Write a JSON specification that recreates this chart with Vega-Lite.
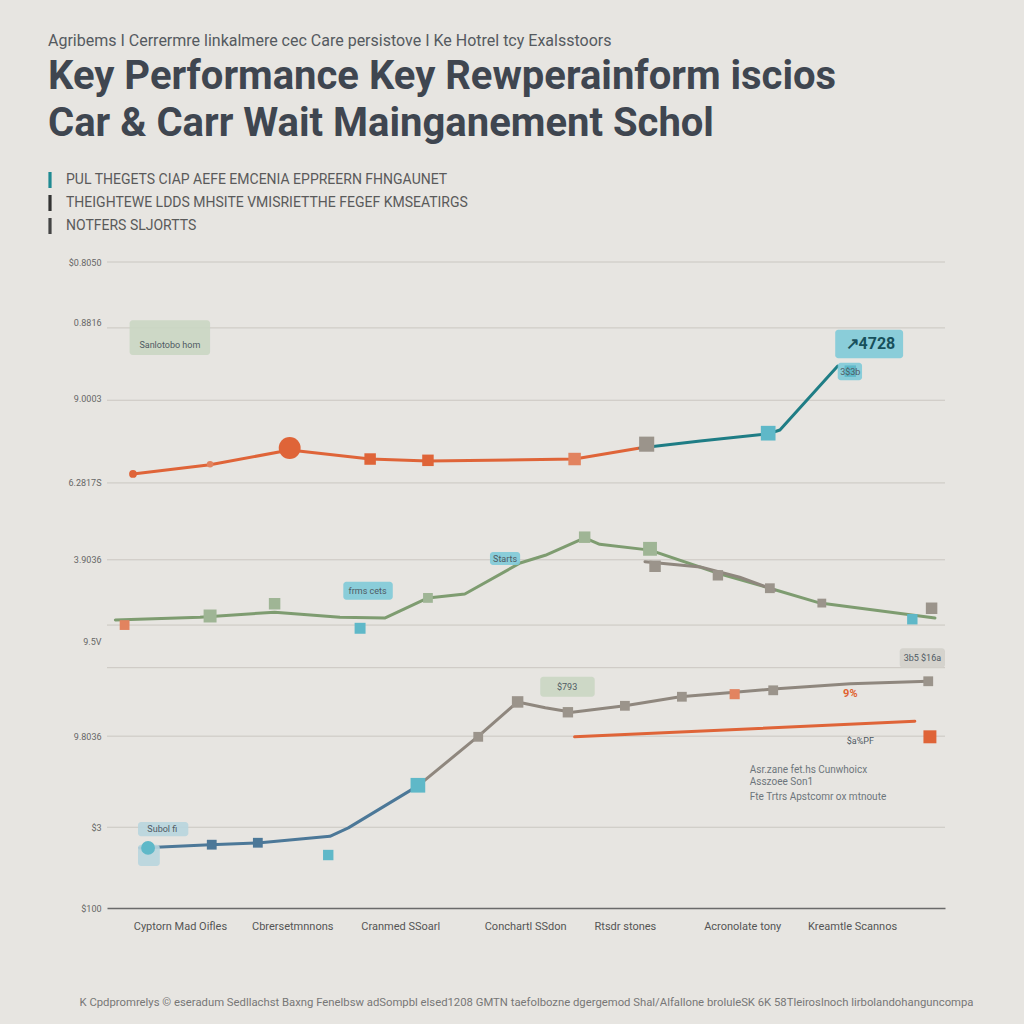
{
  "$schema": "https://vega.github.io/schema/vega-lite/v6.json",
  "width": 838,
  "height": 646,
  "autosize": "none",
  "padding": {"left": 107, "top": 262, "right": 79, "bottom": 116},
  "background": "#e7e5e1",
  "config": {"view": {"stroke": null}, "font": "Roboto"},
  "title": {
    "text": "Agribems I Cerrermre linkalmere cec Care persistove I Ke Hotrel tcy Exalsstoors",
    "subtitle": ["Key Performance Key Rewperainform iscios", "Car & Carr Wait Mainganement Schol"],
    "anchor": "start",
    "frame": "group",
    "dx": -59,
    "offset": 28,
    "fontSize": 16,
    "fontWeight": "normal",
    "color": "#555a60",
    "subtitleFontSize": 40,
    "subtitleFontWeight": "bold",
    "subtitleColor": "#3f4650",
    "subtitleLineHeight": 47,
    "subtitlePadding": 8,
    "font": "Roboto",
    "subtitleFont": "Roboto"
  },
  "datasets": {
    "grid": [{"v": 100}, {"v": 89.8}, {"v": 78.6}, {"v": 65.8}, {"v": 53.9}, {"v": 43.8}, {"v": 37.2}, {"v": 26.6}, {"v": 12.5}],
    "lines": [
      {"s": "A", "c": "orange", "x": 3.1, "y": 67.2}, {"s": "A", "c": "orange", "x": 12.3, "y": 68.6}, {"s": "A", "c": "orange", "x": 21.8, "y": 70.9}, {"s": "A", "c": "orange", "x": 31.4, "y": 69.5}, {"s": "A", "c": "orange", "x": 38.3, "y": 69.2}, {"s": "A", "c": "orange", "x": 55.8, "y": 69.5}, {"s": "A", "c": "orange", "x": 63.6, "y": 71.2},
      {"s": "B", "c": "teal", "x": 63.6, "y": 71.2}, {"s": "B", "c": "teal", "x": 70.8, "y": 72.3}, {"s": "B", "c": "teal", "x": 78.9, "y": 73.4}, {"s": "B", "c": "teal", "x": 80.3, "y": 74.0}, {"s": "B", "c": "teal", "x": 87.2, "y": 83.9},
      {"s": "C", "c": "green", "x": 1.0, "y": 44.6}, {"s": "C", "c": "green", "x": 11.1, "y": 45.0}, {"s": "C", "c": "green", "x": 20.0, "y": 45.8}, {"s": "C", "c": "green", "x": 27.8, "y": 45.0}, {"s": "C", "c": "green", "x": 33.2, "y": 44.9}, {"s": "C", "c": "green", "x": 38.3, "y": 48.0}, {"s": "C", "c": "green", "x": 42.7, "y": 48.6}, {"s": "C", "c": "green", "x": 49.3, "y": 53.4}, {"s": "C", "c": "green", "x": 52.3, "y": 54.6}, {"s": "C", "c": "green", "x": 57.0, "y": 57.3}, {"s": "C", "c": "green", "x": 58.8, "y": 56.3}, {"s": "C", "c": "green", "x": 64.8, "y": 55.4}, {"s": "C", "c": "green", "x": 73.2, "y": 51.7}, {"s": "C", "c": "green", "x": 79.1, "y": 49.5}, {"s": "C", "c": "green", "x": 85.1, "y": 47.2}, {"s": "C", "c": "green", "x": 98.8, "y": 44.9},
      {"s": "D", "c": "gray", "x": 64.2, "y": 53.6}, {"s": "D", "c": "gray", "x": 70.8, "y": 52.8}, {"s": "D", "c": "gray", "x": 75.5, "y": 51.2}, {"s": "D", "c": "gray", "x": 79.7, "y": 49.2},
      {"s": "E", "c": "blue", "x": 3.9, "y": 9.3}, {"s": "E", "c": "blue", "x": 12.3, "y": 9.8}, {"s": "E", "c": "blue", "x": 18.3, "y": 10.1}, {"s": "E", "c": "blue", "x": 26.6, "y": 11.1}, {"s": "E", "c": "blue", "x": 28.8, "y": 12.4}, {"s": "E", "c": "blue", "x": 37.1, "y": 18.9},
      {"s": "F", "c": "gray", "x": 37.1, "y": 18.9}, {"s": "F", "c": "gray", "x": 44.5, "y": 26.8}, {"s": "F", "c": "gray", "x": 49.0, "y": 31.9}, {"s": "F", "c": "gray", "x": 52.3, "y": 31.0}, {"s": "F", "c": "gray", "x": 55.5, "y": 30.3}, {"s": "F", "c": "gray", "x": 61.8, "y": 31.3}, {"s": "F", "c": "gray", "x": 68.4, "y": 32.7}, {"s": "F", "c": "gray", "x": 74.9, "y": 33.4}, {"s": "F", "c": "gray", "x": 79.5, "y": 33.9}, {"s": "F", "c": "gray", "x": 88.7, "y": 34.7}, {"s": "F", "c": "gray", "x": 98.0, "y": 35.1},
      {"s": "G", "c": "orange", "x": 55.8, "y": 26.5}, {"s": "G", "c": "orange", "x": 96.4, "y": 28.9}
    ],
    "boxes": [
      {"c": "boxgreen", "x": 2.7, "x2": 12.3, "y": 91.0, "y2": 85.6},
      {"c": "boxteal", "x": 86.9, "x2": 95.0, "y": 89.5, "y2": 85.1},
      {"c": "boxteal", "x": 87.2, "x2": 90.1, "y": 84.4, "y2": 81.7},
      {"c": "boxteal", "x": 45.7, "x2": 49.3, "y": 55.1, "y2": 53.1},
      {"c": "boxteal", "x": 28.2, "x2": 34.1, "y": 50.5, "y2": 47.7},
      {"c": "boxgreen", "x": 51.7, "x2": 58.2, "y": 35.8, "y2": 32.7},
      {"c": "boxgray", "x": 94.6, "x2": 100, "y": 40.2, "y2": 37.2},
      {"c": "boxblue", "x": 3.7, "x2": 9.7, "y": 13.3, "y2": 11.1},
      {"c": "boxblue", "x": 3.7, "x2": 6.3, "y": 9.8, "y2": 6.5}
    ],
    "markers": [
      {"c": "orange", "m": "dot", "w": 1, "x": 3.1, "y": 67.2},
      {"c": "mkorange", "m": "dot", "w": 0.7, "x": 12.3, "y": 68.7},
      {"c": "orange", "m": "dot", "w": 8, "x": 21.8, "y": 71.2},
      {"c": "orange", "m": "box", "w": 2.2, "x": 31.4, "y": 69.5},
      {"c": "orange", "m": "box", "w": 2.2, "x": 38.3, "y": 69.3},
      {"c": "mkorange", "m": "box", "w": 2.6, "x": 55.8, "y": 69.5},
      {"c": "mkgray", "m": "box", "w": 3.8, "x": 64.4, "y": 71.8},
      {"c": "mkteal", "m": "box", "w": 3.6, "x": 78.9, "y": 73.5},
      {"c": "mkteal", "m": "box", "w": 2.2, "x": 88.7, "y": 83.1},
      {"c": "mkorange", "m": "box", "w": 1.6, "x": 2.1, "y": 43.8},
      {"c": "mkgreen", "m": "box", "w": 2.8, "x": 12.3, "y": 45.2},
      {"c": "mkgreen", "m": "box", "w": 2.2, "x": 20.0, "y": 47.1},
      {"c": "mkteal", "m": "box", "w": 2, "x": 30.2, "y": 43.3},
      {"c": "mkgreen", "m": "box", "w": 1.6, "x": 38.3, "y": 48.0},
      {"c": "mkgreen", "m": "box", "w": 2.2, "x": 57.0, "y": 57.4},
      {"c": "mkgreen", "m": "box", "w": 3.2, "x": 64.8, "y": 55.6},
      {"c": "mkgray", "m": "box", "w": 2.2, "x": 65.4, "y": 52.9},
      {"c": "mkgray", "m": "box", "w": 1.8, "x": 72.9, "y": 51.5},
      {"c": "mkgray", "m": "box", "w": 1.6, "x": 79.1, "y": 49.5},
      {"c": "mkgray", "m": "box", "w": 1.3, "x": 85.3, "y": 47.2},
      {"c": "mkgray", "m": "box", "w": 2.2, "x": 98.4, "y": 46.4},
      {"c": "mkteal", "m": "box", "w": 1.8, "x": 96.1, "y": 44.7},
      {"c": "mkteal", "m": "dot", "w": 3.2, "x": 4.9, "y": 9.3},
      {"c": "blue", "m": "box", "w": 1.6, "x": 12.5, "y": 9.8},
      {"c": "blue", "m": "box", "w": 1.6, "x": 18.0, "y": 10.1},
      {"c": "mkteal", "m": "box", "w": 1.8, "x": 26.4, "y": 8.2},
      {"c": "mkteal", "m": "box", "w": 3.6, "x": 37.1, "y": 19.0},
      {"c": "mkgray", "m": "box", "w": 1.6, "x": 44.3, "y": 26.5},
      {"c": "mkgray", "m": "box", "w": 2.2, "x": 49.0, "y": 31.9},
      {"c": "mkgray", "m": "box", "w": 1.8, "x": 55.0, "y": 30.3},
      {"c": "mkgray", "m": "box", "w": 1.6, "x": 61.8, "y": 31.3},
      {"c": "mkgray", "m": "box", "w": 1.6, "x": 68.6, "y": 32.7},
      {"c": "mkorange", "m": "box", "w": 1.7, "x": 74.9, "y": 33.1},
      {"c": "mkgray", "m": "box", "w": 1.6, "x": 79.5, "y": 33.7},
      {"c": "mkgray", "m": "box", "w": 1.6, "x": 98.0, "y": 35.1},
      {"c": "orange", "m": "box", "w": 2.8, "x": 98.2, "y": 26.5}
    ],
    "texts": [
      {"t": "c", "c": "tdark", "label": "Sanlotobo hom", "x": 7.5, "y": 87.2},
      {"t": "b", "c": "tteal", "label": "↗4728", "x": 91.1, "y": 87.3},
      {"t": "c", "c": "tdark", "label": "3$3b", "x": 88.7, "y": 83.0},
      {"t": "c", "c": "tdark", "label": "Starts", "x": 47.5, "y": 54.0},
      {"t": "c", "c": "tdark", "label": "frms cets", "x": 31.1, "y": 49.1},
      {"t": "c", "c": "tdark", "label": "$793", "x": 54.9, "y": 34.2},
      {"t": "c", "c": "tdark", "label": "3b5 $16a", "x": 97.3, "y": 38.7},
      {"t": "o", "c": "torange", "label": "9%", "x": 88.7, "y": 33.1},
      {"t": "c", "c": "tdark", "label": "Subol fi", "x": 6.6, "y": 12.2},
      {"t": "c", "c": "tdark", "label": "$a%PF", "x": 89.9, "y": 25.9},
      {"t": "l", "c": "tdark", "label": "Asr.zane fet.hs Cunwhoicx", "x": 76.7, "y": 21.4},
      {"t": "l", "c": "tdark", "label": "Asszoee Son1", "x": 76.7, "y": 19.5},
      {"t": "l", "c": "tdark", "label": "Fte Trtrs Apstcomr ox mtnoute", "x": 76.7, "y": 17.2}
    ],
    "legend": [
      {"item": "PUL THEGETS CIAP AEFE EMCENIA EPPREERN FHNGAUNET", "x": 50, "y": 50},
      {"item": "THEIGHTEWE LDDS MHSITE VMISRIETTHE FEGEF KMSEATIRGS", "x": 50, "y": 50},
      {"item": "NOTFERS SLJORTTS", "x": 50, "y": 50}
    ]
  },
  "layer": [
    {
      "data": {"name": "grid"},
      "mark": {"type": "rule", "color": "#cac7c1", "strokeWidth": 1},
      "encoding": {"y": {"field": "v", "type": "quantitative", "scale": {"domain": [0, 100]}}}
    },
    {
      "data": {"name": "lines"},
      "mark": {"type": "line", "strokeCap": "round", "strokeJoin": "round"},
      "encoding": {
        "x": {"field": "x", "type": "quantitative", "scale": {"domain": [0, 100]},
          "axis": {
            "values": [8.7, 22.1, 35.0, 49.9, 61.8, 75.8, 88.9],
            "labelExpr": "datum.value < 15 ? 'Cyptorn Mad Oifles' : datum.value < 30 ? 'Cbrersetmnnons' : datum.value < 42 ? 'Cranmed SSoarl' : datum.value < 55 ? 'Conchartl SSdon' : datum.value < 68 ? 'Rtsdr stones' : datum.value < 82 ? 'Acronolate tony' : 'Kreamtle Scannos'",
            "grid": false, "ticks": false, "domain": true, "domainColor": "#6a6a6a", "domainWidth": 1.5,
            "labelFontSize": 11, "labelColor": "#555", "labelPadding": 12, "labelFont": "Roboto",
            "title": "K  Cpdpromrelys  ©  eseradum Sedllachst Baxng Fenelbsw adSompbl elsed1208 GMTN taefolbozne dgergemod Shal/Alfallone broluleSK 6K 58Tleiroslnoch lirbolandohanguncompa",
            "titleFontSize": 11.3, "titleFontWeight": "normal", "titleColor": "#777", "titlePadding": 65, "titleFont": "Roboto"
          }
        },
        "y": {"field": "y", "type": "quantitative", "scale": {"domain": [0, 100]},
          "axis": {
            "values": [100, 90.6, 78.9, 65.8, 53.9, 41.3, 26.6, 12.5, 0],
            "labelExpr": "datum.value > 95 ? '$0.8050' : datum.value > 85 ? '0.8816' : datum.value > 72 ? '9.0003' : datum.value > 60 ? '6.2817S' : datum.value > 48 ? '3.9036' : datum.value > 35 ? '9.5V' : datum.value > 20 ? '9.8036' : datum.value > 6 ? '$3' : '$100'",
            "grid": false, "ticks": false, "domain": false, "labelFontSize": 9, "labelColor": "#666", "labelPadding": 6, "title": null, "labelFont": "Roboto"
          }
        },
        "color": {"field": "c", "type": "nominal", "legend": null,
          "scale": {
            "domain": ["orange", "teal", "green", "gray", "blue", "mkorange", "mkgray", "mkteal", "mkgreen", "boxgreen", "boxteal", "boxgray", "boxblue", "tdark", "torange", "tteal"],
            "range": ["#df6438", "#1f7d85", "#7e9c70", "#8f877e", "#4c7898", "#e2835f", "#9b948b", "#5fb8c8", "#9fb595", "#cad6c3", "#80cad8", "#d3d0cb", "#b8d5de", "#4f5a63", "#e0622f", "#17505c"]
          }
        },
        "detail": {"field": "s", "type": "nominal"},
        "size": {"field": "s", "type": "nominal", "legend": null, "scale": {"domain": ["A", "B", "C", "D", "E", "F", "G"], "range": [3, 3, 3, 4, 3.5, 4.5, 3]}},
        "order": {"field": "x", "type": "quantitative"}
      }
    },
    {
      "data": {"name": "boxes"},
      "mark": {"type": "rect", "cornerRadius": 3, "opacity": 0.9},
      "encoding": {
        "x": {"field": "x", "type": "quantitative"},
        "x2": {"field": "x2"},
        "y": {"field": "y", "type": "quantitative"},
        "y2": {"field": "y2"},
        "color": {"field": "c", "type": "nominal", "legend": null}
      }
    },
    {
      "data": {"name": "markers"},
      "mark": {"type": "point", "filled": true, "opacity": 1},
      "encoding": {
        "x": {"field": "x", "type": "quantitative"},
        "y": {"field": "y", "type": "quantitative"},
        "color": {"field": "c", "type": "nominal", "legend": null},
        "shape": {"field": "m", "type": "nominal", "legend": null, "scale": {"domain": ["dot", "box"], "range": ["circle", "square"]}},
        "size": {"field": "w", "type": "quantitative", "legend": null, "scale": {"domain": [0, 10], "range": [0, 600]}}
      }
    },
    {
      "data": {"name": "texts"},
      "transform": [{"filter": "datum.t == 'c'"}],
      "mark": {"type": "text", "fontSize": 9, "align": "center", "baseline": "middle", "font": "Roboto"},
      "encoding": {
        "x": {"field": "x", "type": "quantitative"},
        "y": {"field": "y", "type": "quantitative"},
        "text": {"field": "label"},
        "color": {"field": "c", "type": "nominal", "legend": null}
      }
    },
    {
      "data": {"name": "texts"},
      "transform": [{"filter": "datum.t == 'l'"}],
      "mark": {"type": "text", "fontSize": 10, "align": "left", "baseline": "middle", "font": "Roboto", "opacity": 0.8},
      "encoding": {
        "x": {"field": "x", "type": "quantitative"},
        "y": {"field": "y", "type": "quantitative"},
        "text": {"field": "label"},
        "color": {"field": "c", "type": "nominal", "legend": null}
      }
    },
    {
      "data": {"name": "texts"},
      "transform": [{"filter": "datum.t == 'b'"}],
      "mark": {"type": "text", "fontSize": 16, "fontWeight": "bold", "align": "center", "baseline": "middle", "font": "Roboto"},
      "encoding": {
        "x": {"field": "x", "type": "quantitative"},
        "y": {"field": "y", "type": "quantitative"},
        "text": {"field": "label"},
        "color": {"field": "c", "type": "nominal", "legend": null}
      }
    },
    {
      "data": {"name": "texts"},
      "transform": [{"filter": "datum.t == 'o'"}],
      "mark": {"type": "text", "fontSize": 11, "fontWeight": "bold", "align": "center", "baseline": "middle", "font": "Roboto"},
      "encoding": {
        "x": {"field": "x", "type": "quantitative"},
        "y": {"field": "y", "type": "quantitative"},
        "text": {"field": "label"},
        "color": {"field": "c", "type": "nominal", "legend": null}
      }
    },
    {
      "data": {"name": "legend"},
      "mark": {"type": "point", "filled": true, "opacity": 0},
      "encoding": {
        "x": {"field": "x", "type": "quantitative"},
        "y": {"field": "y", "type": "quantitative"},
        "fill": {"field": "item", "type": "nominal", "sort": null,
          "scale": {"domain": ["PUL THEGETS CIAP AEFE EMCENIA EPPREERN FHNGAUNET", "THEIGHTEWE LDDS MHSITE VMISRIETTHE FEGEF KMSEATIRGS", "NOTFERS SLJORTTS"], "range": ["#1f8a92", "#333333", "#444444"]},
          "legend": {
            "orient": "none", "legendX": -65, "legendY": -90, "title": null,
            "symbolType": "M-0.2,-1V1H0.2V-1Z", "symbolSize": 256, "symbolOpacity": 1, "symbolStrokeWidth": 0,
            "labelFontSize": 14, "labelColor": "#5a5a5a", "labelFont": "Roboto", "labelLimit": 600, "labelOffset": 8,
            "rowPadding": 7
          }
        }
      }
    }
  ]
}
